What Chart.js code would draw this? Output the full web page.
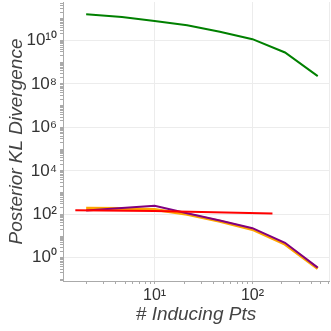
<!DOCTYPE html>
<html>
<head>
<meta charset="utf-8">
<script src="https://cdn.jsdelivr.net/npm/chart.js@4/dist/chart.umd.min.js"></script>
<style>
  html, body { margin: 0; padding: 0; background: #fff; }
  #wrap { width: 331px; height: 331px; }
</style>
</head>
<body>
<div id="wrap"><canvas id="kl"></canvas></div>
<script>
// tick labels
var xTickValues = [10, 100];
var yTickValues = [1, 1e2, 1e4, 1e6, 1e8, 1e10];
var sup = { '0': '\u2070', '1': '\u00b9', '2': '\u00b2', '4': '\u2074', '6': '\u2076', '8': '\u2078' };

// x values (number of inducing points)
var inducingPts = [2, 4.64, 10, 21.5, 46.4, 100, 215, 464];
var redPts = [1.55, 10, 160];

// series values
var greenKL = [1.62e11, 1.2e11, 7.9e10, 5.0e10, 2.5e10, 1.15e10, 2.8e9, 2.3e8];
var orangeKL = [190, 186, 166, 100, 48, 20, 4.2, 0.32];
var purpleKL = [151, 195, 245, 112, 52, 23, 4.9, 0.35];
var redKL = [155, 141, 110];

function pairs(xs, ys) {
    return xs.map(function (x, i) { return { x: x, y: ys[i] }; });
}

function logTicks(lo, hi) {
    var out = [];
    for (var e = lo; e <= hi; e++) {
        for (var k = 1; k < 10; k++) {
            out.push({ value: k * Math.pow(10, e) });
        }
    }
    return out;
}

function expLabel(v) {
    var e = String(Math.round(Math.log10(v)));
    return '10' + e.split('').map(function (c) { return sup[c]; }).join('');
}

var xMin = 1.16, xMax = 605;
var yMin = 0.085, yMax = 5.9e11;

var ctx = document.getElementById('kl').getContext('2d');
var chart = new Chart(ctx, {
    type: 'line',
    data: {
        datasets: [
            { data: pairs(inducingPts, greenKL), borderColor: '#008000', borderWidth: 2, order: 3 },
            { data: pairs(inducingPts, orangeKL), borderColor: '#ffa500', borderWidth: 3, order: 2 },
            { data: pairs(inducingPts, purpleKL), borderColor: '#800080', borderWidth: 2, order: 1 },
            { data: pairs(redPts, redKL), borderColor: '#ff0000', borderWidth: 2, order: 0 }
        ]
    },
    options: {
        responsive: true,
        maintainAspectRatio: false,
        animation: false,
        layout: { padding: { top: 2, right: 2 } },
        elements: { point: { radius: 0 }, line: { tension: 0 } },
        plugins: { legend: { display: false }, tooltip: { enabled: false } },
        scales: {
            x: {
                type: 'logarithmic',
                min: xMin,
                max: xMax,
                afterBuildTicks: function (s) {
                    var t = logTicks(0, 2).filter(function (o) { return o.value > xMin && o.value < xMax; });
                    t.push({ value: xMax });
                    s.ticks = t;
                },
                afterFit: function (s) {
                    s.height = 50;
                    s.paddingLeft = 0;
                    s.paddingRight = 0;
                },
                border: { color: '#aaaaaa', width: 1 },
                grid: {
                    color: function (c) {
                        var v = c.tick && c.tick.value;
                        return (xTickValues.indexOf(v) >= 0 || v === xMax) ? '#ececec' : 'rgba(0,0,0,0)';
                    },
                    tickColor: function (c) {
                        return c.tick && c.tick.value === xMax ? 'rgba(0,0,0,0)' : '#aaaaaa';
                    },
                    tickLength: 3
                },
                ticks: {
                    autoSkip: false,
                    maxRotation: 0,
                    padding: 2,
                    color: '#333333',
                    font: { family: 'Liberation Sans, Arial, sans-serif', size: 16 },
                    callback: function (v) { return xTickValues.indexOf(v) >= 0 ? expLabel(v) : ''; }
                },
                title: {
                    display: true,
                    text: '# Inducing Pts',
                    color: '#444444',
                    padding: { top: 0, bottom: 5 },
                    font: { family: 'Liberation Sans, Arial, sans-serif', size: 19, style: 'italic' }
                }
            },
            y: {
                type: 'logarithmic',
                min: yMin,
                max: yMax,
                afterBuildTicks: function (s) {
                    s.ticks = logTicks(-2, 11).filter(function (o) { return o.value > yMin && o.value < yMax; });
                },
                afterFit: function (s) {
                    s.width = 63;
                    s.paddingTop = 0;
                    s.paddingBottom = 0;
                },
                border: { color: '#aaaaaa', width: 1 },
                grid: {
                    color: function (c) {
                        var v = c.tick && c.tick.value;
                        return yTickValues.indexOf(v) >= 0 ? '#ececec' : 'rgba(0,0,0,0)';
                    },
                    tickColor: '#aaaaaa',
                    tickLength: 3
                },
                ticks: {
                    autoSkip: false,
                    padding: 3,
                    color: '#333333',
                    font: { family: 'Liberation Sans, Arial, sans-serif', size: 17 },
                    callback: function (v) { return yTickValues.indexOf(v) >= 0 ? expLabel(v) : ''; }
                },
                title: {
                    display: true,
                    text: 'Posterior KL Divergence',
                    color: '#444444',
                    padding: { top: 5, bottom: 0 },
                    font: { family: 'Liberation Sans, Arial, sans-serif', size: 19, style: 'italic' }
                }
            }
        }
    }
});
</script>
</body>
</html>
